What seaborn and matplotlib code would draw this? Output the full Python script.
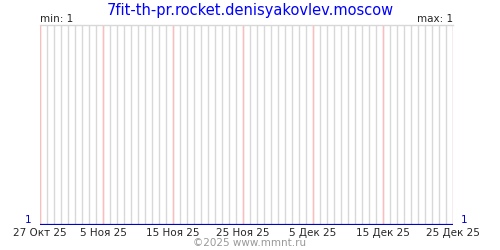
import matplotlib
matplotlib.use("Agg")
import matplotlib.pyplot as plt
import seaborn as sns
import pandas as pd

title = "7fit-th-pr.rocket.denisyakovlev.moscow"
start_date = "2025-10-27"
end_date = "2025-12-25"
values = [1, 1, 1, 1, 1, 1, 1, 1, 1, 1,
          1, 1, 1, 1, 1, 1, 1, 1, 1, 1,
          1, 1, 1, 1, 1, 1, 1, 1, 1, 1,
          1, 1, 1, 1, 1, 1, 1, 1, 1, 1,
          1, 1, 1, 1, 1, 1, 1, 1, 1, 1,
          1, 1, 1, 1, 1, 1, 1, 1, 1, 1]
tick_dates = ["2025-10-27", "2025-11-05", "2025-11-15", "2025-11-25",
              "2025-12-05", "2025-12-15", "2025-12-25"]
tick_labels = ["27 Окт 25", "5 Ноя 25", "15 Ноя 25", "25 Ноя 25",
               "5 Дек 25", "15 Дек 25", "25 Дек 25"]
min_label = "min: 1"
max_label = "max: 1"
copyright_text = "©2025 www.mmnt.ru"

dates = pd.date_range(start_date, end_date, freq="D")
df = pd.DataFrame({"date": dates, "value": values})

sns.set_style("white")
plt.rcParams["font.family"] = ["DejaVu Sans"]

fig = plt.figure(figsize=(5, 2.5), dpi=100)
ax = fig.add_axes([40 / 500, 25 / 250, 413 / 500, 200 / 250])

# daily grid lines
for d in dates:
    ax.axvline(d, color="#d8d8d8", lw=1.0, zorder=0, snap=True)
for t in tick_dates:
    ax.axvline(pd.Timestamp(t), color="#ffbcbc", lw=1.0, zorder=1, snap=True)

sns.lineplot(data=df, x="date", y="value", ax=ax, color="#0000cc", lw=1.6, zorder=3)

ax.set_xlim(dates[0], dates[-1])
ax.set_ylim(1, 2)
ax.set_xticks([pd.Timestamp(t) for t in tick_dates])
ax.set_xticklabels(tick_labels, fontsize=7.5)
ax.tick_params(axis="x", length=0, pad=2)
ax.set_yticks([])
ax.set_xlabel("")
ax.set_ylabel("")
for s in ["left", "right", "bottom"]:
    ax.spines[s].set_visible(False)
ax.spines["top"].set_color("#d8d8d8")
ax.spines["top"].set_linewidth(1.0)

ax.text(-0.02, 0.0, "1", transform=ax.transAxes, color="#0000cc", fontsize=7.5,
        ha="right", va="bottom")
ax.text(1.02, 0.0, "1", transform=ax.transAxes, color="#0000cc", fontsize=7.5,
        ha="left", va="bottom")

fig.text(0.5, 0.96, title, color="#0000ff", fontsize=10.5, ha="center", va="center")
fig.text(40 / 500, 1 - 19 / 250, min_label, fontsize=7.5, ha="left", va="center")
fig.text(453 / 500, 1 - 19 / 250, max_label, fontsize=7.5, ha="right", va="center")
fig.text(0.5, 1 - 243 / 250, copyright_text, color="#999999", fontsize=7.5,
         ha="center", va="center")

fig.savefig("out.png", dpi=100, facecolor="white")
